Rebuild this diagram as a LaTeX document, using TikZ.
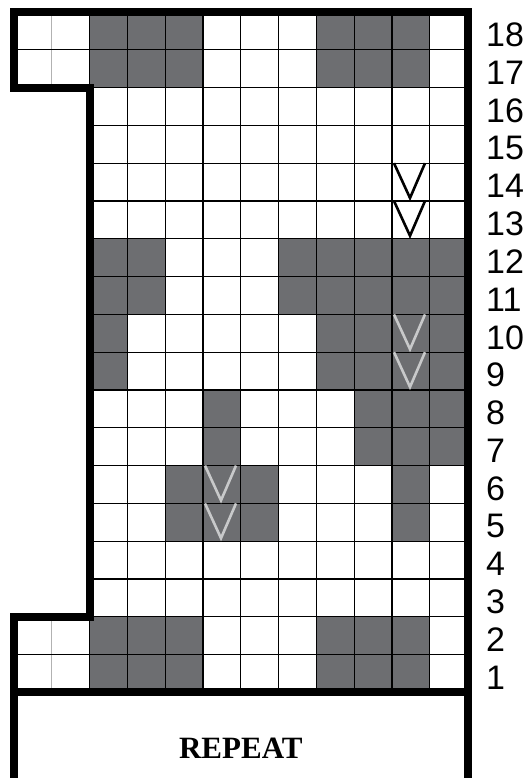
\documentclass[tikz,border=0pt]{standalone}
\usepackage{fontspec}
\setmainfont{Liberation Serif}
\newfontfamily\chartsans{Liberation Sans}

\definecolor{stitchdark}{HTML}{6D6E71}
\definecolor{stitchlight}{HTML}{C8C9CA}

\begin{document}
\begin{tikzpicture}[x=1pt, y=-1pt,
        dark/.style={fill=stitchdark},
        gridline/.style={black, line width=1.3pt},
        outline/.style={black, line width=8pt, line join=miter},
        chevron/.style={line width=2.6pt, line join=miter},
        rownum/.style={anchor=west, inner sep=0pt, font=\chartsans\fontsize{34}{34}\selectfont}]

        % Page Frame
        \useasboundingbox (0,0) rectangle (532,778);

        % Dark Cells
        \foreach \r/\cols in {18/{3,4,5,9,10,11}, 17/{3,4,5,9,10,11},
                              12/{3,4,8,9,10,11,12}, 11/{3,4,8,9,10,11,12},
                              10/{3,9,10,11,12}, 9/{3,9,10,11,12},
                              8/{6,10,11,12}, 7/{6,10,11,12},
                              6/{5,6,7,11}, 5/{5,6,7,11},
                              2/{3,4,5,9,10,11}, 1/{3,4,5,9,10,11}} {
            \foreach \c in \cols {
                \fill[dark] ({14+(\c-1)*37.8}, {692.4-\r*37.8}) rectangle +(37.8,37.8);
            }
        }

        % Grid Lines
        \foreach \j in {2,...,11} {
            \draw[gridline] ({14+\j*37.8},12) -- ({14+\j*37.8},692.4);
        }
        \draw[gridline, gray!60] (51.8,12) -- (51.8,87.6);
        \draw[gridline, gray!60] (51.8,616.8) -- (51.8,692.4);
        \foreach \k in {2,...,16} {
            \draw[gridline] (89.6,{692.4-\k*37.8}) -- (467.6,{692.4-\k*37.8});
        }
        \foreach \k in {1,17} {
            \draw[gridline] (14,{692.4-\k*37.8}) -- (467.6,{692.4-\k*37.8});
        }

        % Decrease Marks
        \foreach \c/\r/\col in {11/14/black, 11/13/black, 11/10/stitchlight,
                                11/9/stitchlight, 6/6/stitchlight, 6/5/stitchlight} {
            \draw[chevron, \col] ({14+(\c-1)*37.8+2}, {692.4-\r*37.8}) -- ++(16,34.8) -- ++(15,-34.8);
        }

        % Outer Border
        \draw[outline] (14,778) -- (14,616.8) -- (89.6,616.8) -- (89.6,87.6)
            -- (14,87.6) -- (14,12) -- (467.6,12) -- (467.6,778);
        \draw[outline] (14,692.4) -- (467.6,692.4);

        % Row Numbers
        \foreach \r in {1,...,18} {
            \node[rownum] (row\r) at (486,{692.4-(\r-0.5)*37.8+4}) {\r};
        }

        % Repeat Label
        \node[font=\bfseries\fontsize{31}{31}\selectfont] (repeat) at (240.8,748) {REPEAT};
    \end{tikzpicture}
\end{document}
